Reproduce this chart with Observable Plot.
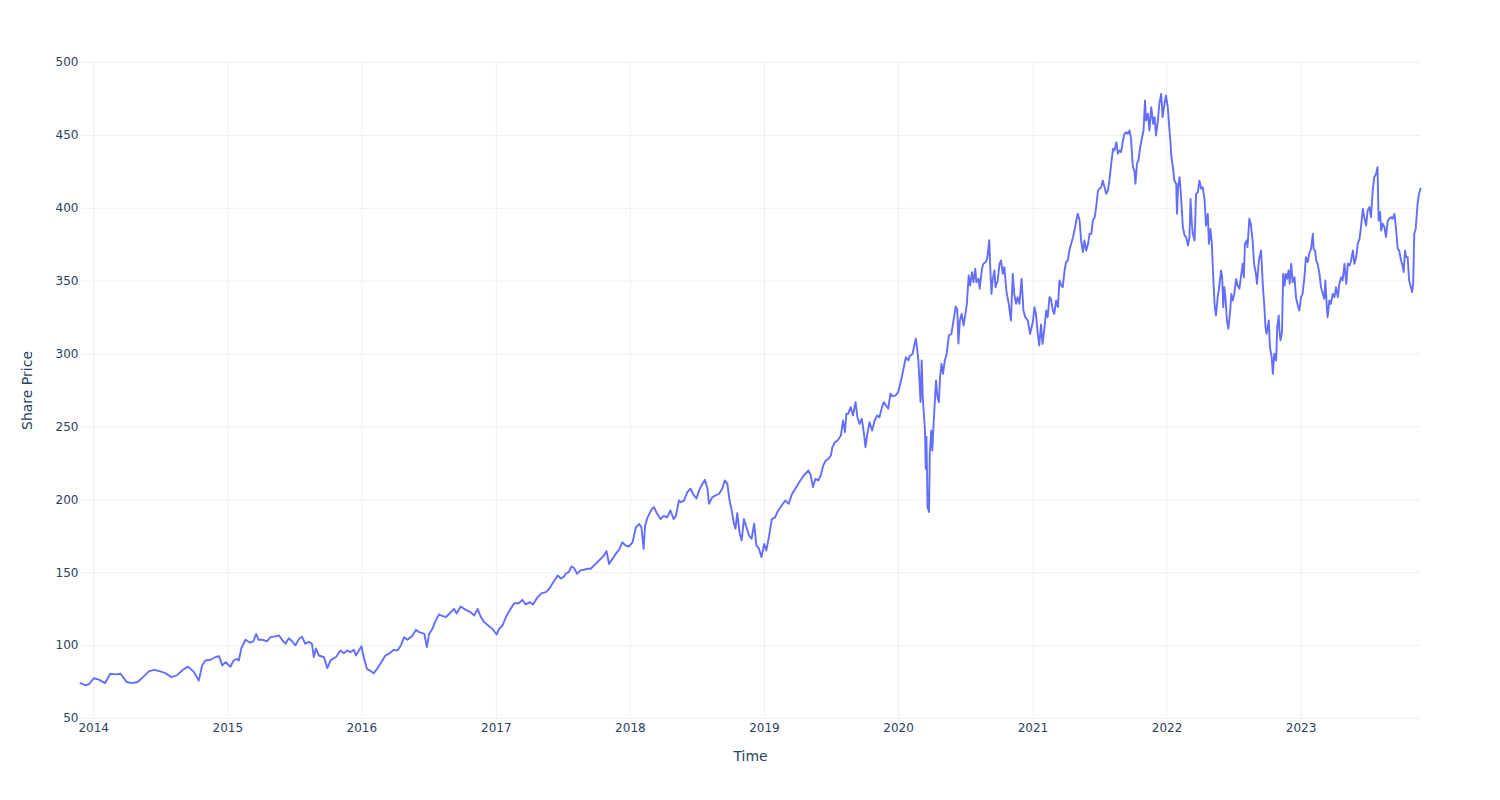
<!DOCTYPE html>
<html><head><meta charset="utf-8">
<script src="https://cdn.jsdelivr.net/npm/d3@7"></script>
<script src="https://cdn.jsdelivr.net/npm/@observablehq/plot@0.6"></script>
<style>body{margin:0;background:#fff;}</style>
</head><body><div id="chart"></div>
<script>
const dates = [
"2013-11-26","2013-12-10","2013-12-20","2014-01-01","2014-01-15","2014-02-01","2014-02-15","2014-03-01","2014-03-15","2014-04-01",
"2014-04-15","2014-05-01","2014-05-15","2014-06-01","2014-06-15","2014-07-01","2014-07-15","2014-08-01","2014-08-15","2014-09-01",
"2014-09-15","2014-10-01","2014-10-14","2014-10-23","2014-11-01","2014-11-15","2014-11-29","2014-12-08","2014-12-17","2014-12-26",
"2015-01-08","2015-01-17","2015-01-26","2015-01-31","2015-02-07","2015-02-18","2015-03-03","2015-03-12","2015-03-19","2015-03-26",
"2015-04-04","2015-04-18","2015-04-27","2015-05-11","2015-05-20","2015-05-29","2015-06-07","2015-06-16","2015-06-25","2015-07-04",
"2015-07-13","2015-07-22","2015-07-31","2015-08-09","2015-08-18","2015-08-23","2015-08-29","2015-09-06","2015-09-20","2015-09-29",
"2015-10-08","2015-10-22","2015-11-04","2015-11-13","2015-11-22","2015-12-01","2015-12-10","2015-12-16","2015-12-23","2015-12-31",
"2016-01-06","2016-01-15","2016-01-24","2016-02-02","2016-02-11","2016-02-20","2016-03-05","2016-03-14","2016-03-28","2016-04-07",
"2016-04-16","2016-04-25","2016-05-04","2016-05-18","2016-05-27","2016-06-05","2016-06-19","2016-06-26","2016-07-02","2016-07-11",
"2016-07-18","2016-07-29","2016-08-03","2016-08-17","2016-08-30","2016-09-08","2016-09-15","2016-09-26","2016-10-10","2016-10-23",
"2016-11-02","2016-11-11","2016-11-20","2016-11-29","2016-12-10","2016-12-21","2017-01-02","2017-01-09","2017-01-18","2017-01-27",
"2017-02-07","2017-02-19","2017-03-03","2017-03-13","2017-03-22","2017-04-02","2017-04-11","2017-04-23","2017-05-05","2017-05-16",
"2017-05-25","2017-06-05","2017-06-17","2017-06-26","2017-07-05","2017-07-09","2017-07-17","2017-07-25","2017-07-31","2017-08-09",
"2017-08-18","2017-08-27","2017-09-06","2017-09-15","2017-09-24","2017-10-03","2017-10-12","2017-10-21","2017-10-28","2017-11-04",
"2017-11-13","2017-11-22","2017-12-01","2017-12-10","2017-12-19","2017-12-28","2018-01-07","2018-01-16","2018-01-25","2018-01-31",
"2018-02-06","2018-02-10","2018-02-17","2018-02-26","2018-03-06","2018-03-15","2018-03-24","2018-04-02","2018-04-11","2018-04-20",
"2018-04-29","2018-05-05","2018-05-13","2018-05-18","2018-05-27","2018-06-05","2018-06-14","2018-06-23","2018-06-30","2018-07-07",
"2018-07-16","2018-07-23","2018-07-30","2018-08-03","2018-08-12","2018-08-21","2018-08-30","2018-09-08","2018-09-15","2018-09-22",
"2018-09-28","2018-10-03","2018-10-10","2018-10-14","2018-10-19","2018-10-25","2018-10-31","2018-11-06","2018-11-13","2018-11-20",
"2018-11-27","2018-12-04","2018-12-10","2018-12-17","2018-12-24","2018-12-31","2019-01-06","2019-01-13","2019-01-21","2019-01-30",
"2019-02-05","2019-02-14","2019-02-20","2019-02-27","2019-03-08","2019-03-17","2019-03-26","2019-04-06","2019-04-18","2019-05-01",
"2019-05-07","2019-05-13","2019-05-20","2019-05-28","2019-06-03","2019-06-10","2019-06-17","2019-06-24","2019-07-01","2019-07-05",
"2019-07-12","2019-07-19","2019-07-28","2019-08-03","2019-08-08","2019-08-12","2019-08-17","2019-08-24","2019-08-30","2019-09-06",
"2019-09-11","2019-09-17","2019-09-23","2019-09-29","2019-10-03","2019-10-08","2019-10-14","2019-10-21","2019-10-28","2019-11-04",
"2019-11-10","2019-11-17","2019-11-22","2019-11-28","2019-12-04","2019-12-10","2019-12-16","2019-12-24","2019-12-31","2020-01-07",
"2020-01-21","2020-01-28","2020-01-31","2020-02-08","2020-02-17","2020-02-21","2020-02-24","2020-02-27","2020-03-01","2020-03-04",
"2020-03-07","2020-03-10","2020-03-13","2020-03-15","2020-03-17","2020-03-20","2020-03-24","2020-03-26","2020-03-30","2020-04-02",
"2020-04-05","2020-04-09","2020-04-12","2020-04-16","2020-04-20","2020-04-23","2020-04-27","2020-05-01","2020-05-06","2020-05-11",
"2020-05-17","2020-05-24","2020-05-31","2020-06-05","2020-06-09","2020-06-12","2020-06-16","2020-06-21","2020-06-26","2020-07-01",
"2020-07-05","2020-07-10","2020-07-14","2020-07-19","2020-07-23","2020-07-28","2020-07-31","2020-08-06","2020-08-09","2020-08-15",
"2020-08-19","2020-08-26","2020-08-30","2020-09-04","2020-09-07","2020-09-10","2020-09-13","2020-09-18","2020-09-21","2020-09-27",
"2020-10-02","2020-10-06","2020-10-11","2020-10-15","2020-10-21","2020-10-27","2020-11-02","2020-11-07","2020-11-11","2020-11-16",
"2020-11-20","2020-11-25","2020-12-01","2020-12-06","2020-12-11","2020-12-18","2020-12-24","2021-01-01","2021-01-05","2021-01-09",
"2021-01-14","2021-01-18","2021-01-23","2021-01-27","2021-02-01","2021-02-06","2021-02-10","2021-02-15","2021-02-19","2021-02-24",
"2021-02-28","2021-03-05","2021-03-10","2021-03-14","2021-03-19","2021-03-23","2021-03-28","2021-04-01","2021-04-06","2021-04-10",
"2021-04-15","2021-04-20","2021-04-24","2021-04-29","2021-05-03","2021-05-08","2021-05-12","2021-05-17","2021-05-21","2021-05-26",
"2021-05-31","2021-06-04","2021-06-09","2021-06-13","2021-06-18","2021-06-22","2021-06-27","2021-07-01","2021-07-06","2021-07-10",
"2021-07-15","2021-07-19","2021-07-24","2021-07-28","2021-08-02","2021-08-07","2021-08-11","2021-08-16","2021-08-20","2021-08-25",
"2021-08-29","2021-09-03","2021-09-07","2021-09-12","2021-09-16","2021-09-21","2021-09-25","2021-09-30","2021-10-04","2021-10-07",
"2021-10-11","2021-10-15","2021-10-20","2021-10-25","2021-10-29","2021-11-02","2021-11-05","2021-11-10","2021-11-14","2021-11-19",
"2021-11-24","2021-11-28","2021-12-02","2021-12-07","2021-12-11","2021-12-16","2021-12-20","2021-12-25","2021-12-29","2022-01-03",
"2022-01-07","2022-01-10","2022-01-13","2022-01-17","2022-01-21","2022-01-26","2022-01-28","2022-01-31","2022-02-04","2022-02-07",
"2022-02-11","2022-02-13","2022-02-18","2022-02-22","2022-02-27","2022-03-03","2022-03-06","2022-03-09","2022-03-12","2022-03-17",
"2022-03-21","2022-03-26","2022-03-30","2022-04-04","2022-04-08","2022-04-13","2022-04-17","2022-04-22","2022-04-25","2022-04-29",
"2022-05-03","2022-05-05","2022-05-08","2022-05-11","2022-05-14","2022-05-19","2022-05-23","2022-05-28","2022-05-31","2022-06-03",
"2022-06-06","2022-06-09","2022-06-13","2022-06-17","2022-06-22","2022-06-25","2022-06-29","2022-07-03","2022-07-08","2022-07-12",
"2022-07-17","2022-07-21","2022-07-26","2022-07-29","2022-08-01","2022-08-06","2022-08-08","2022-08-13","2022-08-17","2022-08-22",
"2022-08-26","2022-08-31","2022-09-03","2022-09-08","2022-09-14","2022-09-19","2022-09-23","2022-09-26","2022-09-29","2022-10-05",
"2022-10-08","2022-10-13","2022-10-16","2022-10-20","2022-10-25","2022-10-28","2022-11-01","2022-11-03","2022-11-06","2022-11-10",
"2022-11-13","2022-11-17","2022-11-20","2022-11-24","2022-11-28","2022-12-01","2022-12-05","2022-12-09","2022-12-14","2022-12-18",
"2022-12-23","2022-12-27","2023-01-01","2023-01-05","2023-01-10","2023-01-14","2023-01-19","2023-01-23","2023-01-28","2023-02-02",
"2023-02-04","2023-02-08","2023-02-11","2023-02-15","2023-02-20","2023-02-24","2023-03-01","2023-03-05","2023-03-08","2023-03-12",
"2023-03-14","2023-03-19","2023-03-23","2023-03-28","2023-04-02","2023-04-06","2023-04-11","2023-04-15","2023-04-20","2023-04-24",
"2023-04-29","2023-05-04","2023-05-08","2023-05-13","2023-05-17","2023-05-22","2023-05-26","2023-05-31","2023-06-04","2023-06-09",
"2023-06-13","2023-06-18","2023-06-22","2023-06-27","2023-07-01","2023-07-06","2023-07-10","2023-07-15","2023-07-19","2023-07-24",
"2023-07-28","2023-07-31","2023-08-04","2023-08-07","2023-08-11","2023-08-16","2023-08-20","2023-08-25","2023-08-29","2023-09-03",
"2023-09-07","2023-09-12","2023-09-16","2023-09-21","2023-09-25","2023-09-30","2023-10-04","2023-10-07","2023-10-11","2023-10-14",
"2023-10-18","2023-10-22","2023-10-27","2023-10-30","2023-11-02","2023-11-05","2023-11-09","2023-11-14","2023-11-18","2023-11-22"
];
const prices = [
74.2,72.7,73.8,77.6,76.7,74.3,80.7,80.3,80.7,75.0,
74.3,75.0,78.4,82.5,83.4,82.3,81.1,78.4,79.6,83.4,
85.6,81.8,76.0,86.4,89.8,90.3,92.2,92.8,86.4,88.7,
85.5,89.8,90.9,89.8,98.3,104.0,102.0,103.0,108.0,104.0,
104.0,103.0,105.8,106.3,107.0,104.0,101.3,105.0,103.0,100.2,
104.3,106.0,101.3,102.6,101.3,92.2,98.0,93.2,92.0,84.5,
90.0,92.0,96.6,94.8,96.6,95.5,97.1,93.2,96.3,99.5,
92.0,83.9,82.8,81.0,83.9,87.4,93.2,94.3,97.1,96.6,
100.0,105.8,104.0,107.0,110.8,109.2,108.0,99.0,108.0,111.5,
116.1,121.4,120.7,119.6,122.9,125.2,122.0,126.8,124.5,122.9,
120.7,125.2,119.6,116.1,113.8,111.6,107.6,111.6,113.8,119.6,
124.5,129.1,129.1,131.4,128.2,129.8,128.2,133.2,136.0,136.7,
139.0,143.5,148.1,146.0,147.5,149.3,150.4,154.3,153.4,149.3,
151.6,152.0,152.7,152.7,155.0,157.2,159.5,161.8,164.8,156.0,
159.5,162.9,165.7,170.9,168.6,168.0,170.9,181.2,183.4,181.2,
166.4,182.3,188.0,192.7,195.0,190.4,186.8,189.0,188.0,192.7,
186.8,189.0,199.5,198.4,199.5,205.3,207.6,203.0,201.0,206.5,
211.0,213.7,207.6,197.3,201.9,203.0,204.0,207.6,213.3,211.0,
199.5,193.8,183.6,180.2,190.9,177.8,172.1,186.8,181.2,175.5,
173.3,183.6,168.7,166.5,160.7,169.8,165.3,174.4,186.8,188.0,
191.6,195.0,197.3,199.5,197.3,204.0,207.6,212.2,216.7,220.1,
216.7,208.7,214.4,213.3,216.7,223.6,227.0,228.1,230.4,236.1,
239.6,240.7,244.1,254.4,246.4,259.0,259.0,263.6,257.9,267.0,
256.7,252.1,255.6,245.2,236.1,245.2,253.3,247.5,254.4,257.9,
256.7,263.6,267.0,264.7,262.5,272.8,271.0,271.7,273.9,280.8,
297.8,295.6,298.5,300.0,310.6,303.0,295.6,281.9,267.0,295.6,
270.5,259.0,247.6,221.3,243.3,195.0,191.6,231.6,247.6,233.8,
250.0,268.1,281.9,270.5,267.0,284.1,293.3,286.4,295.6,300.1,
312.7,313.8,325.3,332.6,330.3,307.2,323.0,327.6,319.6,327.6,
334.4,353.9,347.0,356.2,349.3,358.5,349.3,351.6,344.8,358.5,
361.9,363.1,366.5,378.1,357.3,341.3,350.5,357.3,345.9,350.5,
361.9,364.2,355.0,359.6,342.5,334.4,323.0,355.0,341.3,334.4,
339.0,334.4,351.6,330.1,325.3,323.0,313.8,322.5,332.2,327.6,
314.0,305.9,320.3,306.9,317.1,329.9,325.3,339.0,337.9,329.9,
327.6,336.7,332.2,350.5,347.0,345.9,357.3,363.1,364.2,371.0,
375.6,380.2,384.7,391.6,396.2,391.6,377.9,369.9,377.9,371.0,
375.6,382.5,382.5,391.6,393.8,400.8,412.2,413.4,414.5,419.0,
414.5,410.0,412.2,419.0,430.5,440.8,439.7,445.3,437.4,439.7,
438.5,446.5,451.1,452.2,451.1,453.3,447.6,428.2,425.9,416.8,
430.5,432.7,441.9,448.7,453.3,473.9,460.2,464.8,453.3,469.4,
458.0,462.5,449.9,460.2,471.7,478.5,462.5,471.7,477.4,469.3,
455.6,446.5,435.0,428.2,419.0,416.7,396.2,414.5,421.3,412.2,
396.2,387.0,381.3,380.2,374.5,380.2,406.4,391.6,382.5,377.9,
409.9,411.1,419.0,413.4,414.5,406.4,388.2,396.2,375.6,385.9,
375.6,363.1,346.0,332.2,326.5,339.0,346.0,357.3,352.7,332.2,
346.0,339.0,323.0,317.3,329.9,341.3,336.7,341.3,351.6,347.0,
344.8,352.7,361.9,352.7,375.6,377.9,373.4,392.8,389.4,377.9,
361.9,355.0,348.2,364.2,371.0,346.0,332.2,318.5,313.9,323.0,
304.7,297.8,286.4,300.2,295.6,318.5,326.5,316.2,309.4,315.1,
355.0,347.0,355.0,351.6,357.3,348.2,361.9,349.3,352.7,339.0,
333.3,329.9,339.0,341.3,352.7,366.5,363.1,368.8,372.2,382.5,
372.2,371.0,364.2,361.9,355.0,345.9,341.3,337.9,350.5,332.2,
325.3,336.7,334.4,341.3,339.0,345.9,339.0,348.2,352.7,350.5,
361.9,348.2,361.9,360.8,364.2,371.0,361.9,366.5,375.6,379.0,
387.0,399.6,393.9,388.2,398.5,400.8,393.9,412.2,421.3,423.6,
428.2,391.6,397.3,384.7,389.4,387.0,380.2,391.6,392.8,393.9,
392.8,396.2,387.0,372.2,371.0,364.2,360.8,356.2,371.0,366.5,
366.5,350.5,345.9,342.5,348.2,382.5,385.9,403.1,410.0,413.4
];
const yTicks = [50,100,150,200,250,300,350,400,450,500];
const yearTicks = ["2014","2015","2016","2017","2018","2019","2020","2021","2022","2023"];
const xTitle = "Time";
const yTitle = "Share Price";

const data = dates.map((d, i) => ({date: new Date(d + "T00:00:00Z"), price: prices[i]}));
const years = yearTicks.map(y => new Date(y + "-01-01T00:00:00Z"));

const chart = Plot.plot({
  width: 1500, height: 800,
  marginLeft: 80, marginRight: 80, marginTop: 62, marginBottom: 82,
  style: {fontFamily: '"DejaVu Sans", Verdana, sans-serif', color: "#2a3f5f", background: "#fff", fontSize: "12px"},
  x: {type: "utc", domain: [data[0].date, data[data.length - 1].date]},
  y: {domain: [50, 500]},
  marks: [
    Plot.gridX(years, {stroke: "#EBF0F8", strokeOpacity: 1, strokeWidth: 1}),
    Plot.gridY(yTicks, {stroke: "#EBF0F8", strokeOpacity: 1, strokeWidth: 1}),
    Plot.axisY(yTicks, {tickSize: 0, tickPadding: 2, fontSize: 12, label: null}),
    Plot.axisX(years, {tickSize: 0, tickPadding: 5, fontSize: 12, tickFormat: d3.utcFormat("%Y"), label: null}),
    Plot.line(data, {x: "date", y: "price", stroke: "#636efa", strokeWidth: 1.9}),
    Plot.text([xTitle], {frameAnchor: "bottom", dy: 38, lineAnchor: "middle", fontSize: 14, fill: "#2a3f5f"}),
    Plot.text([yTitle], {frameAnchor: "left", dx: -53, rotate: -90, textAnchor: "middle", lineAnchor: "middle", fontSize: 14, fill: "#2a3f5f"})
  ]
});
document.getElementById("chart").appendChild(chart);
</script>
</body></html>
